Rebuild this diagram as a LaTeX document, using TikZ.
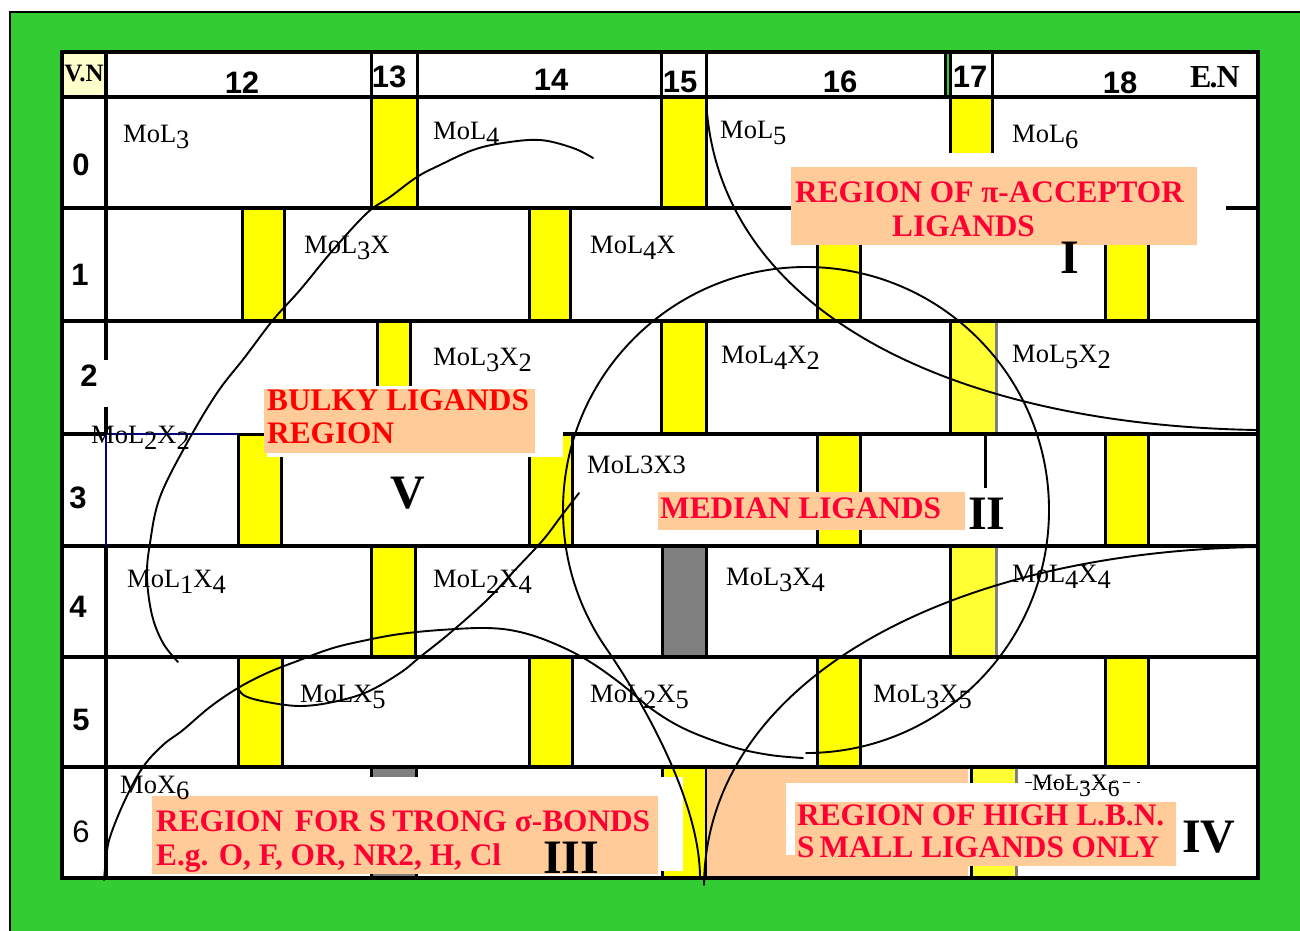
\documentclass[tikz,border=0pt]{standalone}
\usepackage{fontspec}
\setmainfont{Liberation Serif}
\newfontfamily\arialfont{Liberation Sans}
\definecolor{frame}{HTML}{33CC33}
\definecolor{barY}{HTML}{FFFF00}
\definecolor{barLY}{HTML}{FFFF33}
\definecolor{barG}{HTML}{808080}
\definecolor{peach}{HTML}{FFCC99}
\definecolor{crim}{HTML}{FF0033}
\definecolor{cream}{HTML}{FFFFCC}
\definecolor{navyline}{HTML}{000080}
% lowered index, same size as the formula text
\newcommand\lo[1]{\raisebox{-6pt}{#1}}
\begin{document}
\begin{tikzpicture}[x=1pt,y=-1pt,
  rule/.style={line width=3.5pt},
  bar/.style={draw=black,line width=3pt},
  hdr/.style={font=\arialfont\bfseries\fontsize{31}{31}\selectfont,anchor=base,inner sep=0pt},
  rowlab/.style={font=\arialfont\bfseries\fontsize{31}{31}\selectfont,anchor=base,inner sep=0pt},
  mo/.style={font=\fontsize{26.5}{26.5}\selectfont,anchor=base west,inner sep=0pt},
  roman/.style={font=\bfseries\fontsize{48}{48}\selectfont,anchor=base west,inner sep=0pt},
  lbl/.style={font=\bfseries\fontsize{31.3}{31.3}\selectfont,text=crim,anchor=base west,inner sep=0pt},
  curve/.style={line width=1.9pt,line join=round,line cap=round}]
\useasboundingbox (0,0) rectangle (1300,930);
\fill[white] (0,0) rectangle (1300,930);
% green frame
\begin{scope}
  \clip (0,0) rectangle (1300,930);
  \draw[fill=frame,line width=2.5pt] (10,12) rectangle (1320,950);
\end{scope}
% table body
\fill[white] (62,52) rectangle (1258,878);
\fill[cream] (62,52) rectangle (106,97);
\fill[frame] (946,54) rectangle (949,95);

% yellow bars
\foreach \xa/\xb/\ya/\yb in {371/417/97/208, 661/706/97/208, 950/992/97/160,
  242/284/208/321, 529/570/208/321, 817/860/208/321, 1105/1148/208/321,
  377/410/321/434, 661/706/321/434,
  238/281/434/546, 529/572/434/546, 817/860/434/546, 1105/1148/434/546,
  371/415/546/657,
  238/282/657/767, 529/572/657/767, 817/860/657/767, 1105/1148/657/767,
  662/706/767/878}
  \draw[bar,fill=barY] (\xa,\ya) rectangle (\xb,\yb);
% grey bars
\foreach \xa/\xb/\ya/\yb in {662/706/546/657, 371/416/767/878}
  \draw[bar,fill=barG] (\xa,\ya) rectangle (\xb,\yb);
% pale yellow bars with a grey right edge
\foreach \xa/\xb/\ya/\yb in {950/995/321/434, 950/995/546/657, 971/1015/767/878}{
  \fill[barLY] (\xa,\ya) rectangle (\xb,\yb);
  \draw[line width=3pt] (\xa,\ya) -- (\xa,\yb);
  \draw[line width=3pt,barG] (\xb+1,\ya) -- (\xb+1,\yb);
}

% horizontal rules
\draw[rule] (62,97) -- (1258,97);
\draw[rule] (62,208) -- (1258,208);
\draw[rule] (62,321) -- (1258,321);
\draw[rule] (62,434) -- (106,434);
\draw[rule] (563,434) -- (1258,434);
\draw[line width=1.8pt,navyline] (106,434) -- (238,434);
\draw[rule] (62,546) -- (1258,546);
\draw[rule] (62,657) -- (1258,657);
\draw[rule] (62,767) -- (1258,767);
% vertical rules
\draw[rule] (106,52) -- (106,434);
\draw[line width=1.8pt,navyline] (106,434) -- (106,546);
\draw[rule] (106,546) -- (106,878);
\foreach \x in {371,417,661,706,945,950,992}
  \draw[line width=3pt] (\x,52) -- (\x,97);
\draw[line width=3pt] (985,434) -- (985,488);

% patches and label backgrounds
\fill[white] (102,360) rectangle (110,407);
\fill[white] (791,153) rectangle (1226,245);
\fill[peach] (791,167) rectangle (1197,245);
\fill[white] (267,386) rectangle (563,457);
\fill[peach] (264,389) rectangle (535,453);
\fill[peach] (658,492) rectangle (965,530);
\fill[white] (965,488) rectangle (1005,543);
\fill[white] (300,777) rectangle (683,871);
\fill[peach] (152,796) rectangle (658,874);
\fill[peach] (707,769) rectangle (968,876);
\fill[white] (786,783) rectangle (1018,855);
\fill[peach] (795,802) rectangle (1176,866);

% outer border of the table
\draw[line width=4pt] (62,52) rectangle (1258,878);

% header
\node[font=\bfseries\fontsize{25}{25}\selectfont,anchor=base,inner sep=0pt] (vn) at (84,81) {V.N};
\node[hdr] (h12) at (242,93) {12};
\node[hdr] (h13) at (389,87) {13};
\node[hdr] (h14) at (551,90) {14};
\node[hdr] (h15) at (680,92) {15};
\node[hdr] (h16) at (840,92) {16};
\node[hdr] (h17) at (970,87) {17};
\node[hdr] (h18) at (1120,93) {18};
\node[font=\bfseries\fontsize{32}{32}\selectfont,anchor=base west,inner sep=0pt] (en) at (1190,87) {E\kern-2pt.\kern-1pt N};

% row numbers
\node[rowlab] (r0) at (81,175) {0};
\node[rowlab] (r1) at (80,285) {1};
\node[rowlab] (r2) at (89,386) {2};
\node[rowlab] (r3) at (78,508) {3};
\node[rowlab] (r4) at (78,617) {4};
\node[rowlab] (r5) at (81,730) {5};
\node[font=\arialfont\fontsize{31}{31}\selectfont,anchor=base,inner sep=0pt] (r6) at (81,842) {6};

% complexes
\node[mo] (c03) at (123,142) {MoL\lo{3}};
\node[mo] (c04) at (433,139) {MoL\lo{4}};
\node[mo] (c05) at (720,138) {MoL\lo{5}};
\node[mo] (c06) at (1012,142) {MoL\lo{6}};
\node[mo] (c13) at (304,253) {MoL\lo{3}X};
\node[mo] (c14) at (590,253) {MoL\lo{4}X};
\node[mo] (c23) at (433,365) {MoL\lo{3}X\lo{2}};
\node[mo] (c24) at (721,363) {MoL\lo{4}X\lo{2}};
\node[mo] (c25) at (1012,362) {MoL\lo{5}X\lo{2}};
\node[mo] (c22) at (91,443) {MoL\lo{2}X\lo{2}};
\node[mo] (c33) at (587,473) {MoL3X3};
\node[mo] (c41) at (127,587) {MoL\lo{1}X\lo{4}};
\node[mo] (c42) at (433,587) {MoL\lo{2}X\lo{4}};
\node[mo] (c43) at (726,585) {MoL\lo{3}X\lo{4}};
\node[mo] (c44) at (1012,582) {MoL\lo{4}X\lo{4}};
\node[mo] (c51) at (300,702) {MoLX\lo{5}};
\node[mo] (c52) at (590,702) {MoL\lo{2}X\lo{5}};
\node[mo] (c53) at (873,702) {MoL\lo{3}X\lo{5}};
\node[mo] (c60) at (120,793) {MoX\lo{6}};
\draw[line width=0.8pt,dash pattern=on 7pt off 7pt] (1025,782) -- (1140,782);
\node[mo,font=\fontsize{23.5}{23.5}\selectfont] (c63) at (1032,790) {MoL\lo{3}X\lo{6}};

% region labels
\node[lbl] (pa1) at (795,202) {REGION OF π-ACCEPTOR};
\node[lbl] (pa2) at (892,236) {LIGANDS};
\node[lbl,text=red] (bk1) at (267,410) {BULKY LIGANDS};
\node[lbl,text=red] (bk2) at (267,443) {REGION};
\node[lbl] (md) at (660,518) {MEDIAN LIGANDS};
\node[lbl] (sg1) at (156,831) {REGION\kern4pt\ FOR S\kern6pt TRONG σ-BONDS};
\node[lbl] (sg2) at (156,865) {E.g. O, F, OR, NR2, H, Cl};
\node[lbl] (hb1) at (797,825) {REGION OF HIGH L.B.N.};
\node[lbl] (hb2) at (797,857) {S\kern5pt MALL LIGANDS ONLY};

\node[roman] (rI) at (1060,273) {I};
\node[roman] (rII) at (968,529) {II};
\node[roman] (rIII) at (543,873) {III};
\node[roman] (rIV) at (1182,852) {IV};
\node[roman] (rV) at (390,508) {V};

% region boundaries
\draw[curve] (706,97) .. controls (714,310) and (950,425) .. (1257,430);
\draw[curve] (1257,547) .. controls (950,552) and (706,680) .. (704,885);
\draw[curve] (806,753) arc[start angle=90,end angle=-215,radius=243]
  .. controls (641,699) and (700,800) .. (700,878);
\draw[curve] plot[smooth,tension=0.6] coordinates {(104,880) (106,860) (110,837) (125,800) (143,767)
  (163,745) (183,730) (210,707) (238,688) (267,673) (300,660) (333,648) (367,640) (400,634)
  (440,630) (487,628) (520,632) (553,643) (587,660) (620,683) (653,710) (687,730) (733,747)
  (770,755) (803,758)};
\draw[curve] plot[smooth,tension=0.6] coordinates {(238,688) (245,696) (267,702) (300,706)
  (333,702) (367,692) (400,673) (420,657) (450,633) (487,600) (515,570) (543,540) (562,515) (579,493)};
\draw[curve] plot[smooth,tension=0.6] coordinates {(593,158) (573,148) (540,140) (503,143)
  (473,150) (440,165) (417,177) (390,197) (367,213) (333,250) (300,290) (273,320) (245,357)
  (217,393) (187,443) (160,497) (150,543) (147,577) (152,615) (163,643) (178,662)};
\end{tikzpicture}
\end{document}
